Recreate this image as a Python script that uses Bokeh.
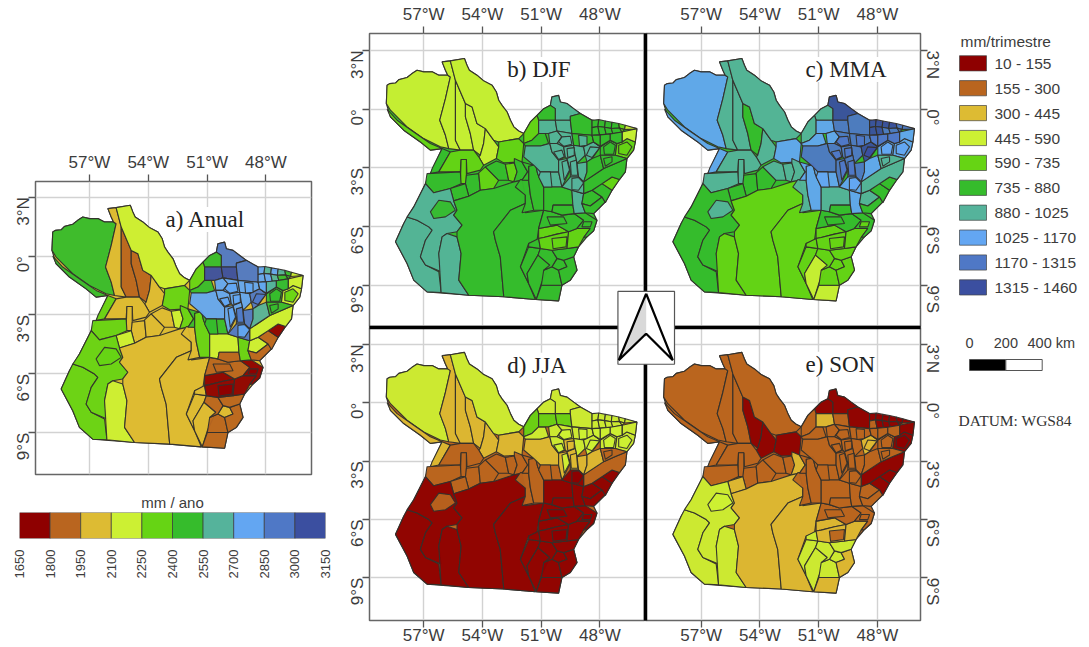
from math import pi
from bokeh.plotting import figure
from bokeh.layouts import row, column
from bokeh.models import Range1d, FixedTicker, Label, ColumnDataSource
from bokeh.core.properties import value
from bokeh.embed import file_html
from bokeh.resources import INLINE

LON_TICKS = [-57, -54, -51, -48]
LON_LABELS = ["57°W", "54°W", "51°W", "48°W"]
LAT_TICKS = [3, 0, -3, -6, -9]
LAT_LABELS = ["3°N", "0°", "3°S", "6°S", "9°S"]

PALETTE = ["#8E0000", "#B9651F", "#DDBB33", "#CCF033", "#66D414",
           "#36BC2C", "#55B39B", "#63A6F2", "#4F78C6", "#3B4FA0"]
ANNUAL_BREAKS = [1650, 1800, 1950, 2100, 2250, 2400, 2550, 2700, 2850, 3000, 3150]
SEASON_LABELS = ["10 - 155", "155 - 300", "300 - 445", "445 - 590", "590 - 735",
                 "735 - 880", "880 - 1025", "1025 - 1170", "1170 - 1315", "1315 - 1460"]

STATE_OUTLINE = [(-56.06,2.42),(-55.64,2.47),(-54.92,2.59),(-54.79,2.25),(-54.67,1.99),(-54.28,1.74),(-53.94,1.45),(-53.51,1.23),(-53.29,.88),(-53.17,.46),(-53.0,.20),(-52.74,-.14),(-52.57,-.56),(-52.40,-.90),(-52.15,-1.11),(-51.89,-1.24),(-51.55,-.65),(-51.21,-.31),(-50.87,.03),(-50.53,.20),(-50.45,.63),(-50.11,.71),(-50.02,.37),(-49.68,.29),(-49.34,.03),(-49.0,-.22),(-48.40,-.56),(-46.11,-.99),(-46.19,-1.67),(-46.28,-2.09),(-46.62,-2.52),(-46.70,-3.20),(-47.0,-3.59),(-47.38,-4.14),(-47.72,-4.73),(-48.32,-5.33),(-48.15,-5.67),(-48.32,-6.21),(-48.66,-6.52),(-49.09,-7.03),(-49.34,-7.54),(-49.17,-8.22),(-49.51,-8.73),(-49.94,-8.99),(-50.11,-9.79),(-51.30,-9.72),(-52.91,-9.58),(-54.70,-9.50),(-56.83,-9.33),(-57.51,-8.73),(-57.85,-7.88),(-58.44,-6.77),(-58.02,-5.84),(-57.51,-4.99),(-56.91,-3.80),(-56.66,-3.29),(-56.06,-2.01),(-56.66,-2.09),(-57.17,-1.67),(-58.02,-1.07),(-58.70,-.39),(-58.91,.29),(-58.87,1.23),(-58.73,1.31),(-58.44,1.34),(-58.27,1.51),(-57.85,1.62),(-57.60,1.82),(-57.34,1.99),(-57.0,1.91),(-56.57,1.91),(-56.23,1.74),(-55.77,1.74),(-55.89,1.99)]

MUNICIPALITIES = [
 [(-58.87,1.23),(-58.73,1.31),(-58.44,1.34),(-58.27,1.51),(-57.85,1.62),(-57.60,1.82),(-57.34,1.99),(-57.0,1.91),(-56.57,1.91),(-56.23,1.74),(-55.77,1.74),(-55.64,1.65),(-55.89,.54),(-56.18,-.56),(-55.89,-1.33),(-55.72,-2.01),(-56.15,-1.92),(-57.0,-1.5),(-57.85,-.9),(-58.7,-.05),(-58.91,.29)],
 [(-58.87,0),(-58.36,-.56),(-57.51,-1.16),(-56.66,-1.75),(-56.06,-2.01),(-56.66,-2.09),(-57.17,-1.67),(-58.02,-1.07),(-58.7,-.39)],
 [(-56.06,2.42),(-55.64,2.47),(-55.38,1.48),(-55.38,-1.58),(-55.13,-2.09),(-55.72,-2.01),(-55.89,-1.33),(-56.18,-.56),(-55.89,.54),(-55.64,1.65),(-55.77,1.74),(-55.89,1.99)],
 [(-55.38,1.48),(-54.87,.29),(-54.87,-.39),(-54.62,-1.24),(-54.45,-2.09),(-55.13,-2.09),(-55.38,-1.58)],
 [(-54.87,.29),(-54.53,.12),(-54.28,-.73),(-53.85,-.99),(-53.94,-1.75),(-54.11,-2.35),(-54.45,-2.09),(-54.62,-1.24),(-54.87,-.39)],
 [(-53.85,-.99),(-53.43,-1.58),(-53.17,-1.92),(-53.29,-2.52),(-53.94,-2.86),(-54.19,-2.43),(-54.11,-2.35),(-53.94,-1.75)],
 [(-55.64,2.47),(-54.92,2.59),(-54.79,2.25),(-54.67,1.99),(-54.28,1.74),(-53.94,1.45),(-53.51,1.23),(-53.29,.88),(-53.17,.46),(-53.0,.20),(-52.74,-.14),(-52.57,-.56),(-52.40,-.90),(-52.15,-1.11),(-51.89,-1.24),(-52.15,-1.50),(-53.17,-1.67),(-53.43,-1.58),(-53.85,-.99),(-54.28,-.73),(-54.53,.12),(-54.87,.29),(-55.38,1.48)],
 [(-53.17,-1.67),(-52.15,-1.50),(-51.89,-1.75),(-51.98,-2.69),(-52.91,-2.74),(-53.29,-2.52),(-53.17,-1.92)],
 [(-56.06,-2.01),(-55.64,-2.18),(-56.23,-3.20),(-56.66,-3.29),(-56.57,-3.03)],
 [(-55.64,-2.18),(-55.13,-2.09),(-54.45,-2.09),(-54.19,-2.43),(-53.94,-2.86),(-54.11,-3.11),(-54.79,-3.29),(-54.82,-2.57),(-55.09,-2.57),(-55.13,-3.20),(-56.23,-3.20)],
 [(-55.09,-2.57),(-54.82,-2.57),(-54.82,-3.80),(-55.13,-3.80)],
 [(-56.83,-3.29),(-55.13,-3.20),(-55.09,-3.80),(-55.64,-4.05),(-56.49,-4.27),(-56.91,-3.80)],
 [(-54.82,-3.37),(-54.19,-3.29),(-54.11,-4.14),(-54.70,-4.44),(-54.87,-3.80)],
 [(-55.64,-4.05),(-54.87,-3.80),(-54.70,-4.44),(-55.47,-4.68)],
 [(-54.19,-3.25),(-53.85,-2.94),(-53.17,-3.63),(-53.43,-4.05),(-54.11,-4.14)],
 [(-53.85,-2.94),(-53.29,-2.64),(-52.83,-2.81),(-52.66,-3.63),(-53.17,-3.63)],
 [(-52.83,-2.81),(-52.37,-2.74),(-52.23,-3.20),(-52.40,-3.71),(-52.66,-3.63)],
 [(-52.37,-2.52),(-51.98,-2.69),(-51.69,-3.20),(-51.98,-3.63),(-52.40,-3.71),(-52.23,-3.20),(-52.37,-2.74)],
 [(-58.44,-6.77),(-58.02,-5.84),(-57.85,-5.50),(-57.34,-5.67),(-56.74,-6.01),(-56.57,-6.18),(-56.91,-6.69),(-57.17,-7.54),(-56.91,-7.96),(-56.23,-8.30),(-56.11,-9.36),(-56.83,-9.33),(-57.51,-8.73),(-57.85,-7.88)],
 [(-56.91,-3.80),(-56.49,-4.27),(-55.64,-4.05),(-55.47,-4.68),(-55.30,-5.16),(-55.47,-5.41),(-55.04,-5.92),(-55.30,-6.26),(-55.81,-6.35),(-56.06,-6.52),(-56.23,-7.37),(-56.11,-8.30),(-56.91,-7.96),(-57.17,-7.54),(-56.91,-6.69),(-56.57,-6.18),(-56.74,-6.01),(-57.34,-5.67),(-57.85,-5.50),(-57.51,-4.99)],
 [(-56.66,-5.24),(-56.23,-4.65),(-55.64,-4.73),(-55.38,-5.16),(-55.89,-5.50),(-56.49,-5.58)],
 [(-56.11,-9.36),(-56.23,-7.37),(-56.06,-6.52),(-55.81,-6.35),(-55.30,-6.52),(-55.09,-7.37),(-55.21,-8.73),(-54.70,-9.50)],
 [(-55.47,-4.68),(-54.70,-4.44),(-54.11,-4.14),(-53.43,-4.05),(-52.40,-3.71),(-51.98,-3.63),(-51.81,-4.39),(-51.81,-4.82),(-52.57,-5.16),(-53.43,-6.26),(-53.34,-6.69),(-53.09,-7.54),(-52.91,-9.58),(-54.70,-9.50),(-55.21,-8.73),(-55.09,-7.37),(-55.30,-6.52),(-55.30,-6.26),(-55.04,-5.92),(-55.47,-5.41),(-55.30,-5.16)],
 [(-53.43,-6.26),(-52.57,-5.16),(-51.81,-4.82),(-51.81,-5.29),(-50.87,-5.16),(-51.13,-6.09),(-51.21,-6.69),(-51.64,-6.86),(-52.06,-8.05),(-51.64,-8.90),(-51.30,-9.72),(-52.91,-9.58),(-53.09,-7.54),(-53.34,-6.69)],
 [(-52.06,-8.05),(-51.64,-7.03),(-51.04,-7.11),(-51.16,-7.45),(-51.72,-8.39),(-51.64,-8.90)],
 [(-51.72,-8.39),(-51.16,-7.45),(-50.56,-7.96),(-50.99,-8.90),(-51.25,-9.72),(-51.64,-8.90)],
 [(-50.99,-8.99),(-49.94,-8.99),(-50.11,-9.79),(-51.25,-9.72)],
 [(-50.87,-8.22),(-50.45,-8.05),(-50.11,-8.22),(-49.94,-8.99),(-50.99,-8.99)],
 [(-50.45,-8.05),(-50.19,-7.62),(-49.85,-7.71),(-49.68,-8.05),(-50.11,-8.22)],
 [(-49.85,-7.71),(-49.34,-7.54),(-49.17,-8.22),(-49.51,-8.73),(-49.94,-8.99),(-50.11,-8.22),(-49.68,-8.05)],
 [(-51.04,-7.11),(-50.45,-7.20),(-50.19,-7.62),(-50.45,-8.05),(-50.87,-8.22),(-50.56,-7.96),(-51.16,-7.45)],
 [(-50.45,-7.20),(-49.68,-7.11),(-49.09,-7.03),(-49.34,-7.54),(-49.85,-7.71),(-50.19,-7.62)],
 [(-51.64,-6.86),(-51.13,-6.60),(-51.04,-7.11),(-51.64,-7.03)],
 [(-51.13,-6.09),(-50.19,-5.92),(-49.60,-6.26),(-50.19,-6.38),(-50.87,-6.55),(-51.13,-6.60)],
 [(-51.13,-6.60),(-50.87,-6.55),(-50.19,-6.38),(-49.60,-6.26),(-49.68,-7.11),(-50.45,-7.20),(-51.04,-7.11)],
 [(-49.17,-6.09),(-48.49,-6.09),(-48.83,-6.55),(-49.09,-7.03),(-49.68,-7.11),(-49.60,-6.26)],
 [(-50.87,-5.16),(-50.45,-5.24),(-49.94,-5.41),(-49.31,-5.33),(-48.83,-5.67),(-49.17,-6.09),(-49.60,-6.26),(-50.19,-5.92),(-51.13,-6.09)],
 [(-49.31,-5.33),(-48.75,-5.29),(-48.15,-5.67),(-48.32,-6.21),(-48.66,-6.52),(-48.83,-6.55),(-48.49,-6.09),(-49.17,-6.09),(-48.83,-5.67)],
 [(-52.32,-3.97),(-52.06,-3.59),(-51.64,-3.63),(-51.55,-4.39),(-51.38,-5.16),(-51.98,-5.29),(-51.81,-4.82),(-51.81,-4.39)],
 [(-51.64,-2.91),(-51.30,-2.77),(-51.18,-3.29),(-50.87,-3.97),(-50.87,-5.16),(-51.38,-5.16),(-51.55,-4.39),(-51.64,-3.63)],
 [(-51.98,-2.69),(-51.38,-2.86),(-51.64,-2.91),(-51.64,-3.63),(-51.98,-3.63),(-51.69,-3.20)],
 [(-51.30,-2.77),(-51.04,-3.20),(-50.11,-3.20),(-49.94,-3.97),(-50.87,-3.97),(-51.18,-3.29)],
 [(-50.87,-3.97),(-49.94,-3.97),(-49.43,-4.14),(-49.38,-4.90),(-50.39,-4.90),(-50.45,-5.24),(-50.87,-5.16)],
 [(-50.39,-4.90),(-49.38,-4.90),(-49.31,-5.33),(-49.94,-5.41),(-50.45,-5.24)],
 [(-49.43,-4.14),(-48.83,-4.31),(-48.92,-4.82),(-48.75,-5.29),(-49.31,-5.33),(-49.38,-4.90)],
 [(-48.83,-4.31),(-48.40,-4.14),(-47.89,-4.48),(-48.49,-4.94),(-48.92,-4.82)],
 [(-48.92,-4.82),(-48.49,-4.94),(-47.89,-4.48),(-47.72,-4.73),(-48.32,-5.33),(-48.75,-5.29)],
 [(-48.40,-4.14),(-47.89,-3.80),(-47.38,-4.14),(-47.72,-4.77),(-47.89,-4.48)],
 [(-47.89,-3.80),(-47.38,-3.46),(-47.0,-3.59),(-47.38,-4.14)],
 [(-48.83,-3.71),(-47.81,-3.03),(-47.21,-2.77),(-46.62,-2.52),(-46.70,-3.20),(-47.0,-3.59),(-47.38,-3.46),(-47.89,-3.80),(-48.40,-4.14),(-48.83,-4.31)],
 [(-50.53,.20),(-50.45,.63),(-50.11,.71),(-50.02,.37),(-49.68,.29),(-49.34,.03),(-49.0,-.22),(-49.51,-.36),(-49.51,-.56),(-50.28,-.56),(-50.28,.03)],
 [(-51.21,-.31),(-50.87,.03),(-50.53,.20),(-50.28,.03),(-50.28,-.56),(-51.13,-.56)],
 [(-51.55,-.65),(-51.21,-.31),(-51.13,-.56),(-51.13,-1.24),(-51.47,-1.58),(-51.89,-1.75),(-51.89,-1.24)],
 [(-51.13,-1.24),(-50.79,-1.24),(-50.62,-1.75),(-51.04,-1.88),(-51.81,-1.88),(-51.89,-1.75),(-51.47,-1.58)],
 [(-51.13,-.56),(-50.28,-.56),(-50.19,-1.11),(-50.62,-1.24),(-50.79,-1.24),(-51.13,-1.24)],
 [(-50.28,-.56),(-49.51,-.56),(-49.43,-1.24),(-50.19,-1.11)],
 [(-49.51,-.36),(-49.0,-.22),(-48.40,-.56),(-48.40,-1.33),(-49.43,-1.24),(-49.51,-.56)],
 [(-51.81,-1.88),(-51.04,-1.88),(-50.56,-1.75),(-50.45,-2.18),(-50.11,-2.60),(-50.11,-3.20),(-51.04,-3.20),(-51.38,-2.86),(-51.89,-2.43)],
 [(-50.62,-1.24),(-50.19,-1.11),(-49.94,-1.41),(-50.19,-1.75),(-50.56,-1.75)],
 [(-50.19,-1.11),(-49.43,-1.24),(-49.34,-1.84),(-49.85,-1.92),(-50.19,-1.75),(-49.94,-1.41)],
 [(-49.43,-1.24),(-48.40,-1.33),(-48.32,-1.67),(-48.83,-1.92),(-49.34,-1.84)],
 [(-50.56,-1.75),(-50.19,-1.75),(-49.85,-1.92),(-49.77,-2.43),(-50.11,-2.60),(-50.45,-2.18)],
 [(-49.85,-1.92),(-49.34,-1.84),(-49.26,-2.35),(-49.68,-2.52),(-49.77,-2.43)],
 [(-49.34,-1.84),(-48.83,-1.92),(-48.75,-2.35),(-49.17,-2.77),(-49.26,-2.35)],
 [(-48.83,-1.92),(-48.32,-1.67),(-47.98,-1.92),(-48.40,-2.52),(-48.66,-2.69),(-48.75,-2.35)],
 [(-50.11,-2.60),(-49.68,-2.52),(-49.51,-3.11),(-49.94,-3.97),(-50.11,-3.20)],
 [(-49.68,-2.52),(-49.26,-2.35),(-49.17,-2.77),(-49.09,-3.46),(-49.51,-3.46),(-49.51,-3.11)],
 [(-49.17,-2.77),(-48.66,-2.69),(-48.66,-3.20),(-48.83,-3.71),(-49.09,-3.46)],
 [(-48.66,-2.69),(-48.40,-2.52),(-47.98,-2.35),(-47.81,-3.03),(-48.83,-3.71),(-48.66,-3.20)],
 [(-49.94,-3.97),(-49.51,-3.46),(-49.09,-3.46),(-48.83,-3.71),(-48.83,-4.31),(-49.43,-4.14)],
 [(-47.98,-1.92),(-47.47,-1.58),(-47.13,-1.75),(-47.21,-2.35),(-47.98,-2.35)],
 [(-47.13,-1.75),(-46.87,-1.67),(-46.62,-1.50),(-46.19,-1.67),(-46.28,-2.09),(-46.62,-2.52),(-47.21,-2.35)],
 [(-46.87,-1.16),(-46.11,-.99),(-46.19,-1.67),(-46.62,-1.50),(-46.87,-1.67)],
 [(-47.98,-2.35),(-47.21,-2.35),(-46.62,-2.52),(-47.21,-2.77),(-47.81,-3.03)],
 [(-48.32,-1.67),(-48.40,-1.33),(-47.47,-1.24),(-46.87,-1.16),(-46.87,-1.67),(-47.13,-1.75),(-47.47,-1.58),(-47.98,-1.92)],
 [(-48.40,-.56),(-48.06,-.53),(-48.10,-.88),(-48.40,-.94)],
 [(-48.06,-.53),(-47.72,-.60),(-47.76,-.92),(-48.10,-.88)],
 [(-47.72,-.60),(-47.38,-.66),(-47.42,-.98),(-47.76,-.92)],
 [(-47.38,-.66),(-47.04,-.73),(-47.00,-.96),(-47.42,-.98)],
 [(-47.04,-.73),(-46.70,-.82),(-46.74,-1.04),(-47.00,-.96)],
 [(-46.70,-.82),(-46.11,-.99),(-46.74,-1.04)],
 [(-48.40,-.94),(-48.10,-.88),(-48.02,-1.30),(-48.40,-1.33)],
 [(-48.10,-.88),(-47.76,-.92),(-47.68,-1.28),(-48.02,-1.30)],
 [(-47.76,-.92),(-47.42,-.98),(-47.34,-1.25),(-47.68,-1.28)],
 [(-47.42,-.98),(-47.00,-.96),(-46.87,-1.16),(-47.34,-1.25)],
 [(-47.00,-.96),(-46.74,-1.04),(-46.87,-1.16)],
 [(-48.40,-1.33),(-47.98,-1.31),(-47.98,-1.89),(-48.32,-1.67)],
 [(-47.98,-1.31),(-47.47,-1.26),(-47.47,-1.58),(-47.98,-1.89)],
 [(-47.47,-1.26),(-46.87,-1.16),(-46.87,-1.67),(-47.13,-1.75),(-47.47,-1.58)],
 [(-49.94,-1.41),(-49.51,-1.38),(-49.43,-1.79),(-49.85,-1.89),(-50.11,-1.67)],
 [(-49.09,-1.33),(-48.66,-1.38),(-48.66,-1.84),(-49.04,-1.89)],
 [(-49.68,-2.01),(-49.31,-1.96),(-49.31,-2.35),(-49.64,-2.47)],
 [(-50.36,-2.18),(-49.94,-2.09),(-49.82,-2.43),(-50.11,-2.57)],
 [(-49.51,-2.69),(-49.20,-2.60),(-49.13,-3.37),(-49.46,-3.37)],
 [(-49.94,-2.69),(-49.68,-2.60),(-49.55,-3.11),(-49.82,-3.63)],
 [(-51.04,-3.20),(-50.53,-3.20),(-50.45,-3.97),(-50.87,-3.97),(-51.13,-3.46)],
 [(-49.43,-3.54),(-49.09,-3.49),(-48.83,-3.76),(-49.09,-4.14),(-49.43,-4.10)],
 [(-48.49,-1.92),(-48.01,-1.96),(-48.40,-2.47),(-48.69,-2.35)],
 [(-47.81,-1.92),(-47.47,-1.67),(-47.21,-1.84),(-47.30,-2.30),(-47.77,-2.30)],
 [(-47.04,-1.84),(-46.62,-1.67),(-46.36,-1.92),(-46.62,-2.35),(-47.04,-2.26)],
 [(-47.81,-2.52),(-47.38,-2.43),(-47.38,-2.69),(-47.72,-2.91)],
 [(-50.70,-5.50),(-49.85,-5.50),(-49.68,-5.84),(-50.53,-5.92)],
 [(-48.83,-5.75),(-48.40,-5.75),(-48.49,-6.01),(-48.92,-6.01)],
 [(-50.45,-6.60),(-49.68,-6.52),(-49.73,-7.03),(-50.39,-7.13)],
]

# class (0-9 of the palette) of each municipality, one list per panel
ANUAL = [5,5,2,1,1,2,3,4,4,2, 2,4,2,3,2,2,3,4,4,4, 4,3,2,2,2,2,1,1,2,1,
         1,1,2,0,0,0,1,0,2,4, 5,5,3,1,4,3,1,1,0,3, 8,5,4,5,9,9,8,7,7,7,
         7,7,7,7,8,7,7,8,6,8, 5,3,3,5,6,7,6,7,6,5, 3,7,7,6,5,5,7,6,5,
         7,7,7,7,8,7,5,7,8,5, 4,5,1,0,0]
DJF = [3,4,3,3,3,3,3,4,5,4, 4,5,5,5,4,5,4,5,6,6, 5,6,5,5,5,5,5,5,5,5,
       5,5,5,4,4,4,5,5,5,5, 5,6,5,5,6,5,5,5,4,5, 6,5,4,5,6,6,5,6,6,6,
       5,6,6,6,6,6,6,6,5,6, 5,4,3,5,5,5,5,5,5,4, 3,5,5,5,5,4,5,5,5,
       6,6,6,6,6,6,6,6,6,5, 4,5,5,5,4]
MAM = [7,7,6,6,5,6,6,7,7,6, 6,6,5,5,5,6,6,6,5,5, 6,4,4,4,4,3,3,4,4,4,
       4,4,4,4,4,4,5,5,6,7, 7,7,6,5,7,6,5,5,5,6, 9,6,6,7,7,8,8,8,7,8,
       8,8,8,8,9,8,8,8,7,7, 7,7,7,6,8,9,9,9,9,8, 8,9,9,8,8,8,8,8,8,
       8,8,8,8,8,8,7,7,9,7, 7,6,5,4,4]
JJA = [3,2,2,2,2,2,3,2,2,1, 1,1,1,1,1,1,1,1,0,0, 1,0,0,0,0,0,0,0,0,0,
       0,0,0,0,0,0,0,0,1,1, 1,1,0,0,0,0,0,0,0,1, 3,3,4,3,4,4,3,2,3,3,
       3,3,2,3,3,2,2,2,2,0, 3,3,3,1,3,3,3,3,3,3, 3,3,3,3,3,3,3,3,3,
       3,3,2,3,2,3,1,0,3,3, 3,1,0,0,0]
SON = [1,1,1,1,0,0,1,0,1,1, 1,1,1,2,1,1,1,2,3,3, 3,3,2,2,3,3,2,3,3,2,
       3,3,3,2,2,2,1,1,1,1, 1,1,1,1,1,1,1,0,0,0, 0,0,1,1,2,1,0,1,1,1,
       1,1,1,1,2,1,1,1,1,1, 1,0,0,1,1,0,0,0,0,0, 0,1,0,0,0,0,1,1,1,
       1,1,1,1,1,1,1,1,2,1, 0,1,1,1,1]

PANELS = [
    dict(values=ANUAL, title="a) Anual", title_at=(-53.12, 1.86), base=2,
         x=(-59.75, -45.68), y=(3.80, -11.13), w=335, h=490,
         border=dict(left=35, right=24, top=181, bottom=16), xloc="above", yloc="left"),
    dict(values=DJF, title="b) DJF", title_at=(-52.73, 2.03), base=5,
         x=(-59.77, -45.67), y=(3.87, -11.15), w=310, h=327,
         border=dict(left=34, right=0, top=33, bottom=0), xloc="above", yloc="left"),
    dict(values=MAM, title="c) MMA", title_at=(-51.67, 2.03), base=5,
         x=(-59.84, -45.80), y=(3.87, -11.15), w=309, h=327,
         border=dict(left=0, right=34, top=33, bottom=0), xloc="above", yloc="right"),
    dict(values=JJA, title="d) JJA", title_at=(-52.73, 1.93), base=1,
         x=(-59.77, -45.67), y=(3.87, -11.20), w=310, h=320,
         border=dict(left=34, right=0, top=0, bottom=25), xloc="below", yloc="left"),
    dict(values=SON, title="e) SON", title_at=(-51.67, 1.98), base=1,
         x=(-59.84, -45.80), y=(3.87, -11.20), w=309, h=320,
         border=dict(left=0, right=34, top=0, bottom=25), xloc="below", yloc="right"),
]

SANS = "Liberation Sans"
SERIF = "Liberation Serif"
INK = "#3c3c3c"
LINE = "#33302c"


def map_panel(c):
    b = c["border"]
    y_lo, y_hi = c["y"][1], c["y"][0]
    p = figure(width=c["w"], height=c["h"], x_range=Range1d(*c["x"]), y_range=Range1d(y_lo, y_hi),
               x_axis_location=c["xloc"], y_axis_location=c["yloc"], toolbar_location=None,
               output_backend="svg", min_border_left=b["left"], min_border_right=b["right"],
               min_border_top=b["top"], min_border_bottom=b["bottom"],
               outline_line_color="#666666", outline_line_width=1.5)
    p.xaxis.ticker = FixedTicker(ticks=LON_TICKS)
    p.yaxis.ticker = FixedTicker(ticks=LAT_TICKS)
    p.xaxis.major_label_overrides = dict(zip(LON_TICKS, LON_LABELS))
    p.yaxis.major_label_overrides = dict(zip(LAT_TICKS, LAT_LABELS))
    p.yaxis.major_label_orientation = -pi / 2 if c["yloc"] == "right" else pi / 2
    for ax in (p.xaxis, p.yaxis):
        ax.major_label_text_font = SANS
        ax.major_label_text_font_size = "17px"
        ax.major_label_text_color = INK
        ax.major_tick_line_color = "#555555"
        ax.major_tick_line_width = 1.3
        ax.major_tick_out = 7
        ax.major_tick_in = 0
        ax.minor_tick_line_color = None
        ax.axis_line_color = None
    p.xaxis.major_label_standoff = -2 if c["xloc"] == "below" else 3
    p.yaxis.major_label_standoff = 5
    for g, t in ((p.xgrid, LON_TICKS), (p.ygrid, LAT_TICKS)):
        g.ticker = FixedTicker(ticks=t)
        g.grid_line_color = "#d2d2d2"
        g.grid_line_width = 1.4

    p.patch([q[0] for q in STATE_OUTLINE], [q[1] for q in STATE_OUTLINE],
            fill_color=PALETTE[c["base"]], line_color=LINE, line_width=1.2)
    src = ColumnDataSource(dict(
        xs=[[q[0] for q in m] for m in MUNICIPALITIES],
        ys=[[q[1] for q in m] for m in MUNICIPALITIES],
        color=[PALETTE[k] for k in c["values"]],
    ))
    p.patches("xs", "ys", source=src, fill_color="color", fill_alpha=0.95,
              line_color=LINE, line_width=1.1, line_alpha=0.95)
    p.add_layout(Label(x=c["title_at"][0], y=c["title_at"][1], text=c["title"],
                       text_font=SERIF, text_font_size="23px", text_color="#222222",
                       text_baseline="alphabetic", background_fill_color="white"))
    return p


figs = [map_panel(c) for c in PANELS]
fa, fb, fc, fd, fe = figs

# thick cross between the four seasonal panels (inner frame edges), drawn before the north arrow
CROSS = dict(line_color="black", line_width=3.5, level="overlay")
for i, f in ((1, fb), (2, fc), (3, fd), (4, fe)):
    xs = sorted(PANELS[i]["x"])
    ys = sorted(PANELS[i]["y"])
    edge_x = PANELS[i]["x"][1] if i in (1, 3) else PANELS[i]["x"][0]
    edge_y = PANELS[i]["y"][1] if i in (1, 2) else PANELS[i]["y"][0]
    f.line([edge_x, edge_x], ys, **CROSS)
    f.line(xs, [edge_y, edge_y], **CROSS)

# frame origin (page pixels) of each seasonal panel, used to place the arrow across them
SCALE = 19.58
ORIGINS = {1: (369, 33), 2: (645, 33), 3: (369, 327), 4: (645, 327)}
for i, f in ((1, fb), (2, fc), (3, fd), (4, fe)):
    ox, oy = ORIGINS[i]
    x0, y0 = PANELS[i]["x"][0], PANELS[i]["y"][0]
    fx = lambda px: x0 + (px - ox) / SCALE
    fy = lambda py: y0 - (py - oy) / SCALE
    f.quad(left=[fx(617.5)], right=[fx(674)], top=[fy(291)], bottom=[fy(364)],
           fill_color="white", line_color="#555555", line_width=1.2, level="overlay")
    f.patch([fx(645.7), fx(618.3), fx(645.7)], [fy(293.3), fy(360), fy(333.3)],
            fill_color="#d9d9d9", line_color=None, level="overlay")
    f.line([fx(645.7), fx(618.3), fx(645.7), fx(672.3), fx(645.7)],
           [fy(293.3), fy(360), fy(333.3), fy(360), fy(293.3)],
           line_color="black", line_width=2.2, level="overlay")

# annual colour bar
cb = figure(width=335, height=95, x_range=Range1d(1650, 3150), y_range=Range1d(0, 1),
            toolbar_location=None, output_backend="svg", min_border_left=19, min_border_right=10,
            min_border_top=21, min_border_bottom=47, outline_line_color=None)
cb.quad(left=ANNUAL_BREAKS[:-1], right=ANNUAL_BREAKS[1:], bottom=0, top=1,
        fill_color=PALETTE, line_color="#3a3a3a", line_alpha=0.7, line_width=1)
cb.grid.visible = False
cb.yaxis.visible = False
cb.xaxis.ticker = FixedTicker(ticks=ANNUAL_BREAKS)
cb.xaxis.major_label_orientation = pi / 2
cb.xaxis.major_label_text_font = SANS
cb.xaxis.major_label_text_font_size = "13px"
cb.xaxis.major_label_text_color = INK
cb.xaxis.major_label_standoff = 5
cb.xaxis.major_tick_line_color = None
cb.xaxis.minor_tick_line_color = None
cb.xaxis.axis_line_color = None
cb.title.text = "mm / ano"
cb.title.align = "center"
cb.title.text_font = SANS
cb.title.text_font_size = "15px"
cb.title.text_font_style = "normal"
cb.title.text_color = INK
cb.title.standoff = 3

# seasonal legend, scale bar and datum (axes hidden; 1 unit = 1 page pixel)
lg = figure(width=131, height=646, x_range=Range1d(954, 1085), y_range=Range1d(646, 0),
            toolbar_location=None, output_backend="svg", min_border=0, outline_line_color=None)
lg.axis.visible = False
lg.grid.visible = False
rows_y = [62.8 + 24.9 * i for i in range(len(SEASON_LABELS))]
lg.quad(left=959, right=986, top=[y - 7.6 for y in rows_y], bottom=[y + 7.6 for y in rows_y],
        fill_color=PALETTE, line_color="#444444", line_alpha=0.7, line_width=1)
lg.text(x=994, y=rows_y, text=SEASON_LABELS, text_font=value(SANS), text_font_size="15.5px",
        text_color=INK, text_baseline="middle")
lg.text(x=[960], y=[41], text=["mm/trimestre"], text_font=value(SANS), text_font_size="15.5px",
        text_color=INK, text_baseline="middle")
KM = [0, 200, 400]
KM_PX = 72.7 / 400
lg.quad(left=[969 + KM[0] * KM_PX, 969 + KM[1] * KM_PX], right=[969 + KM[1] * KM_PX, 969 + KM[2] * KM_PX],
        top=359, bottom=370, fill_color=["black", "white"], line_color="#555555", line_width=1)
lg.text(x=[969 + k * KM_PX for k in KM[:2]], y=[342.7, 342.7], text=["0", "200"], text_font=value(SANS),
        text_font_size="14.5px", text_color=INK, text_baseline="middle", text_align="center")
lg.text(x=[1027], y=[342.7], text=["400 km"], text_font=value(SANS),
        text_font_size="14.5px", text_color=INK, text_baseline="middle")
lg.text(x=[958], y=[420], text=["DATUM: WGS84"], text_font=value(SERIF), text_font_size="15.5px",
        text_color="#333333", text_baseline="middle")

page = row(column(fa, row(cb), spacing=0), column(fb, fd, spacing=0), column(fc, fe, spacing=0), lg, spacing=0)
open("out.html", "w").write(file_html(page, INLINE))
